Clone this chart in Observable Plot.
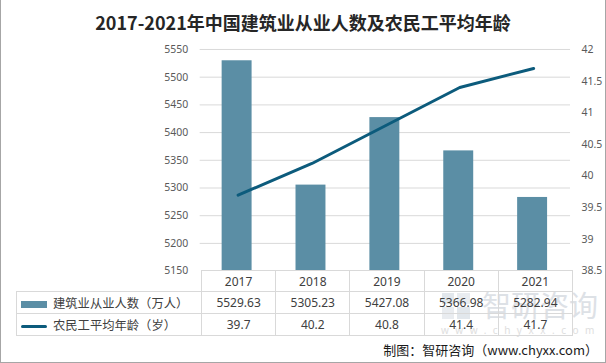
<!DOCTYPE html>
<html><head><meta charset="utf-8">
<script src="https://cdn.jsdelivr.net/npm/d3@7"></script>
<script src="https://cdn.jsdelivr.net/npm/@observablehq/plot@0.6"></script>
<style>
body{margin:0;background:#fff;}
#wrap{position:relative;width:604px;height:362px;border-left:1px solid #a6a6a6;border-right:1px solid #a6a6a6;border-bottom:1px solid #a6a6a6;overflow:hidden;background:#fff;font-family:"Noto Sans","Noto Sans CJK SC",sans-serif;}
#title{position:absolute;left:0;top:0;width:604px;height:44px;line-height:44px;text-align:center;font-family:"Noto Sans CJK SC",sans-serif;font-weight:bold;font-size:18px;color:#262626;}
#chart{position:absolute;left:-1px;top:40px;}
#tbl{position:absolute;left:15px;top:270px;border-collapse:collapse;table-layout:fixed;font-size:12px;color:#404040;}
#tbl td{border:1px solid #d9d9d9;padding:0;text-align:center;white-space:nowrap;overflow:visible;}
#tbl td.lab{text-align:left;padding-left:4px;font-family:"Noto Sans CJK SC",sans-serif;font-size:12.3px;}
#tbl td.blank{border-left:none;border-top:none;}
.sw{display:inline-block;width:26px;vertical-align:middle;margin-right:6px;}
#cap{position:absolute;right:7px;top:340px;font-size:13px;color:#1a1a1a;font-family:"Noto Sans CJK SC",sans-serif;}
#wm1{position:absolute;left:481px;top:287px;font-size:29px;color:#dde1e6;font-family:"Noto Sans CJK SC",sans-serif;line-height:34px;}
#wm2{position:absolute;left:440px;top:323px;font-size:10px;color:#dedede;letter-spacing:6.5px;}
#logo{position:absolute;left:441px;top:293px;width:28px;height:26px;opacity:0.4;}
</style></head>
<body>
<div id="wrap">
<div id="title">2017-2021年中国建筑业从业人数及农民工平均年龄</div>
<div id="chart"></div>
<svg id="logo" viewBox="0 0 28 26"><rect x="0" y="0" width="12" height="11" fill="#b8c4d0"/><rect x="15" y="0" width="13" height="11" fill="#c9d2db"/><rect x="0" y="14" width="12" height="12" fill="#c9d2db"/><rect x="15" y="14" width="13" height="12" fill="#b8c4d0"/></svg>
<div id="wm1">智研咨询</div>
<div id="wm2">www.chyxx.com</div>
<table id="tbl"></table>
<div id="cap">制图：智研咨询（www.chyxx.com）</div>
</div>
<script>
const years = ["2017", "2018", "2019", "2020", "2021"];
const workers = [5529.63, 5305.23, 5427.08, 5366.98, 5282.94];
const ages = [39.7, 40.2, 40.8, 41.4, 41.7];
const workersLabel = "建筑业从业人数（万人）";
const agesLabel = "农民工平均年龄（岁）";
const leftTicks = [5150, 5200, 5250, 5300, 5350, 5400, 5450, 5500, 5550];
const rightTicks = [38.5, 39, 39.5, 40, 40.5, 41, 41.5, 42];

const barColor = "#5b8ea5";
const lineColor = "#0c5b7c";

const L0 = leftTicks[0], L1 = leftTicks[leftTicks.length - 1];
const R0 = rightTicks[0], R1 = rightTicks[rightTicks.length - 1];
const toLeft = a => L0 + (a - R0) * (L1 - L0) / (R1 - R0);
const fromLeft = v => R0 + (v - L0) * (R1 - R0) / (L1 - L0);

const data = years.map((y, i) => ({year: y, workers: workers[i], age: ages[i]}));

const chart = Plot.plot({
  width: 606, height: 323,
  marginTop: 9, marginBottom: 92, marginLeft: 200, marginRight: 35,
  x: {type: "band", domain: years, padding: 0, axis: null},
  y: {domain: [L0, L1], axis: null},
  style: {fontFamily: "'Noto Sans', sans-serif", fontSize: "10.5px", color: "#595959", background: "transparent", overflow: "visible"},
  marks: [
    Plot.gridY(leftTicks.slice(1), {stroke: "#d9d9d9", strokeOpacity: 1}),
    Plot.axisY(leftTicks, {anchor: "left", tickSize: 0, tickPadding: 12, label: null, fill: "#595959",
      tickFormat: d => String(d)}),
    Plot.axisY(rightTicks.map(toLeft), {anchor: "right", tickSize: 0, tickPadding: 11, label: null, fill: "#595959",
      tickFormat: d => String(Math.round(fromLeft(d) * 10) / 10)}),
    Plot.barY(data, {x: "year", y1: L0, y2: "workers", fill: barColor, insetLeft: 21, insetRight: 23}),
    Plot.line(data, {x: "year", y: d => toLeft(d.age), stroke: lineColor, strokeWidth: 3})
  ]
});
document.getElementById("chart").appendChild(chart);

// data table under the chart
const tbl = document.getElementById("tbl");
const colW = (571 - 200) / years.length;
let html = `<colgroup><col style="width:185px">${years.map(() => `<col style="width:${colW}px">`).join("")}</colgroup>`;
html += `<tr style="height:21px"><td class="blank"></td>${years.map(y => `<td>${y}</td>`).join("")}</tr>`;
html += `<tr style="height:22px"><td class="lab"><span class="sw" style="height:7px;background:${barColor}"></span>${workersLabel}</td>${workers.map(v => `<td>${v.toFixed(2)}</td>`).join("")}</tr>`;
html += `<tr style="height:22px"><td class="lab"><span class="sw" style="height:3px;background:${lineColor};border-radius:2px"></span>${agesLabel}</td>${ages.map(v => `<td>${v.toFixed(1)}</td>`).join("")}</tr>`;
tbl.innerHTML = html;
</script>
</body></html>
